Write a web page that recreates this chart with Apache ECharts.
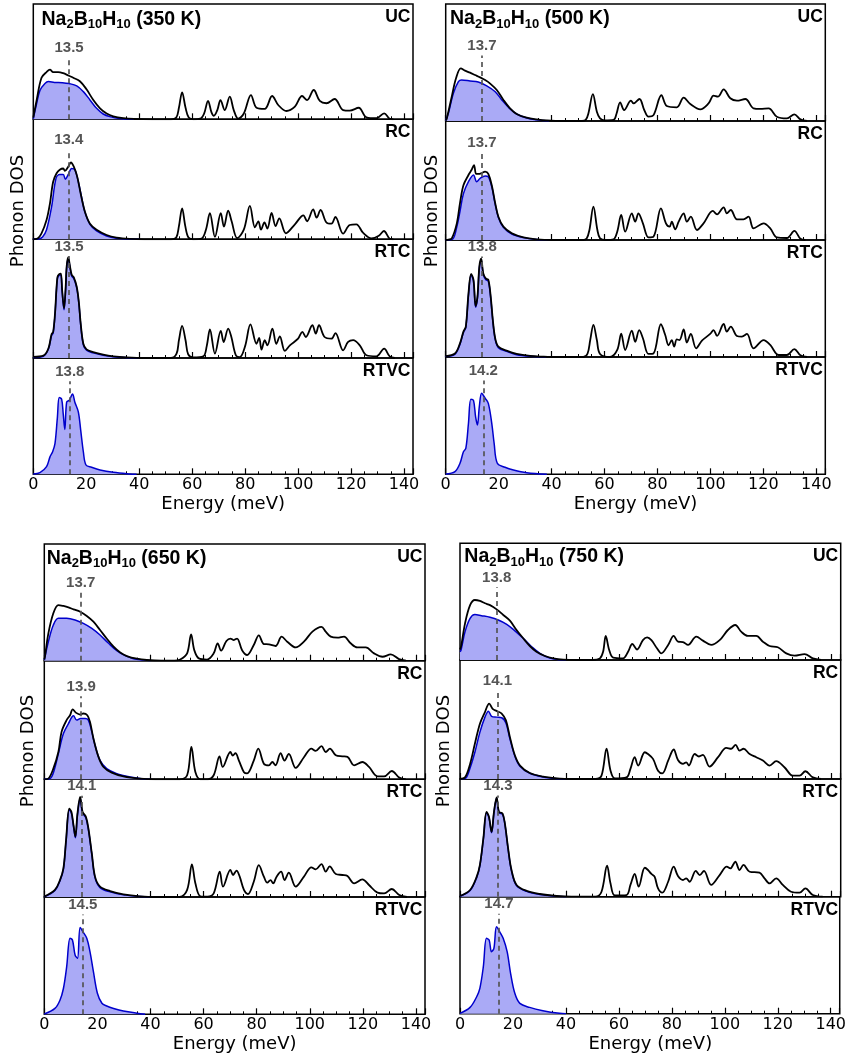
<!DOCTYPE html>
<html>
<head>
<meta charset="utf-8">
<script src="https://cdn.jsdelivr.net/npm/echarts@6/dist/echarts.min.js"></script>
<style>html,body{margin:0;padding:0;background:#fff}#chart{width:849px;height:1059px}</style>
</head>
<body>
<div id="chart"></div>
<script>
// ---------- DATA ----------
const energyTicks = [0, 20, 40, 60, 80, 100, 120, 140];
const temps = ['350 K', '500 K', '650 K', '750 K'];
const subplotNames = ['UC', 'RC', 'RTC', 'RTVC'];
const avg350 = [13.5, 13.4, 13.5, 13.8];
const avg500 = [13.7, 13.7, 13.8, 14.2];
const avg650 = [13.7, 13.9, 14.1, 14.5];
const avg750 = [13.8, 14.1, 14.3, 14.7];

// [energy (meV), DOS (arb.)]
const tot350UC = [[0,1.5],[1.3,17],[3.1,36],[5,41],[6.3,43],[7.5,41],[9.4,41],[11.3,40],[13.2,38],[15.1,36],[17.6,33],[20.1,26],[22.6,17],[25.2,9.5],[27.7,5],[30.2,2.6],[34,1],[38,0.3],[45,0],[52,0],[54,1.5],[55,10],[56.2,23.4],[57.5,10],[58.7,1.5],[60.5,0],[63,0.5],[64.5,5],[66,16],[67.3,6],[68.2,3],[69.5,8],[70.7,16.7],[72.3,8],[74.2,19.6],[75.7,8],[77.4,0.5],[79.5,5],[82.2,21],[84.3,10],[87.4,9],[90.2,20.2],[92.5,12.4],[95.6,7.2],[98.8,11],[101.5,20.2],[103.4,16.7],[105.9,25.4],[108.2,15.9],[110.7,13.9],[113.8,17.6],[117,8],[119.5,7.5],[122.9,10],[125.8,1.7],[129.6,0.9],[132.5,5.2],[134.6,0.5],[136,0]];
const na350UC = [[0,0.5],[1,11],[2.5,25],[4.4,31],[5.7,32.7],[8,32],[11,31.8],[13.5,31],[16.4,29],[18.9,24],[21.4,16.8],[23.9,9.5],[26.4,4.6],[28.9,2.3],[32.7,0.6],[38,0]];
const tot350RC = [[0,0],[1.3,0.3],[3.1,5],[5,16],[6.3,30],[7.5,48],[8.8,55],[10,58],[11.3,59],[11.9,57],[13.2,60.5],[14.2,64],[15.3,60.5],[16.6,52],[17.9,38],[19.5,23],[21.4,13],[23.9,8],[27.7,3.6],[31.4,1.4],[36.5,0.3],[42,0],[52,0],[54,1.5],[55,11],[56.2,25.8],[57.4,11],[58.6,1.5],[60.5,0],[63.5,0.5],[65.2,8],[66.7,21.7],[68.6,2],[70.8,21.7],[72,10.5],[73.6,23.8],[74.9,15],[77,1],[79.5,8],[81.8,27.8],[83.7,10],[85,15],[86,8],[87.3,14],[88.4,9],[90,22],[91.5,11],[92.9,17.5],[95.4,5],[98.8,12.5],[102,20],[103.4,15],[105.7,25],[107,18],[108.5,24.4],[110.7,14],[112.6,13],[114.1,18.6],[117,4.7],[119.5,11.9],[122,12.5],[124.5,5.5],[127.7,0.8],[130.5,3],[132.4,6.9],[134.6,0.5],[136,0]];
const na350RC = [[0,0],[2,0.3],[3.5,2],[5,8],[6.9,27],[8.6,51],[10,54],[11.3,54],[12.1,50],[13.2,54],[14.5,59],[15.7,58],[17,48],[18.2,35.5],[19.5,22.5],[21.4,12.5],[23.9,7],[27.7,2.8],[31.4,0.8],[35,0.3],[40,0]];
const tot350RTC = [[0,1],[3.8,2],[5.7,8],[6.9,20],[7.5,22],[8.2,37.5],[9.1,68],[9.8,70.7],[10.4,71],[10.9,57],[11.6,41.7],[12.2,58.6],[12.6,77],[13.2,85],[13.8,78],[14.5,70],[15.3,68],[16.4,60],[17.2,47],[17.9,29],[18.9,12],[20.1,7.3],[22.6,5],[26.4,2.8],[30.2,1.4],[35.2,0.5],[42,0],[52,0],[54.1,3.7],[55,15],[56.2,27],[57.5,15],[58.5,3],[60.4,0.5],[64.2,1.4],[65.5,10],[66.7,24],[68.6,3.7],[70.8,22.8],[71.9,13.5],[73.6,24.8],[74.8,17.7],[76.5,2.3],[78,0.8],[80,10],[82,28.4],[84.3,12],[85.3,17],[86.2,7],[87.4,15],[88.4,10.7],[90.3,24.8],[91.8,12],[93.1,18.3],[95,6],[96.9,10.7],[100,16.3],[101.6,22],[102.9,17.7],[105.4,27.6],[106.7,20.6],[107.9,27.6],[110,17.7],[112.6,16.3],[114.1,21],[117,6.5],[118.9,13.5],[120.8,15],[123.3,10.7],[125.8,2.3],[129.6,1.4],[132.5,7.9],[134.6,1.4],[136.5,0]];
const na350RTC = [[0,0.5],[3.8,1.5],[5.7,7.5],[6.9,19],[7.5,21],[8.2,36.5],[9.1,67],[9.8,69.7],[10.4,70],[10.9,56],[11.6,40.7],[12.2,57.6],[12.6,76],[13.2,84],[13.8,77],[14.5,69],[15.3,67],[16.4,59],[17.2,46],[17.9,28],[18.9,11],[20.1,6.5],[22.6,4.3],[26.4,2.2],[30.2,1],[35.2,0.3],[40,0]];
const na350RTVC = [[0,0.3],[2.5,1.4],[5,6.6],[6.3,15],[7.3,19.4],[8.2,26.6],[9.1,49],[9.8,66],[10.7,64.6],[11.3,52],[11.9,38.6],[12.6,62],[13.6,63.7],[14.8,69],[15.7,62],[17,53.7],[17.9,38],[18.9,19.4],[19.9,8],[22,6],[25.2,3.7],[30.2,1.7],[36.5,0.3],[39,0]];

const tot500UC = [[0,0.5],[0.4,2],[2.3,21],[3.9,36.5],[5.7,45],[7.3,43],[9.2,41.3],[11.1,39.3],[13,37.3],[14.9,35],[16.8,32],[19.3,26.5],[21.8,18],[24.3,10.8],[26.8,6],[30.6,2.8],[34.4,1.4],[38.2,0.5],[44,0],[51.5,0],[52.9,0.9],[53.9,6.5],[55.6,23],[57.1,8],[58.3,2.3],[60,0.5],[63.4,0.9],[64.5,6],[65.9,16],[67.4,9.4],[70,17.4],[71,15],[73.2,18.8],[75,9.4],[76.6,3.7],[78.5,5],[81.5,22],[83.5,12.8],[87.3,11.7],[89.9,19.9],[92.4,14.5],[96.2,10],[99.3,15],[101.2,21.7],[102.8,20.8],[105,27],[107.5,19.4],[110,17.4],[113.2,18.8],[116.3,10.8],[118.8,10.3],[122,10.8],[125.1,3.7],[128.9,2.3],[131.7,5.7],[134,1.4],[136.5,0]];
const na500UC = [[0,0.5],[1,6.5],[2.9,23.6],[4.8,33.6],[6,35],[9.2,34.2],[12.3,33.3],[15.5,30],[18.7,25],[21.2,18],[23.7,11.7],[26.8,6],[30.6,2.6],[35,0.9],[39,0]];
const tot500RC = [[0,0],[1,0.3],[2.3,1.4],[4.2,14],[5.4,31],[6.7,46],[8.6,54.6],[9.8,59],[10.7,63],[11.5,55.5],[12.4,55.5],[13.4,56],[14.9,57.4],[16.1,55.5],[17.4,46],[18.7,31],[19.9,19.6],[21.8,11.2],[25,5.6],[29.4,2.2],[34.4,0.6],[40,0],[52,0],[53.3,1.4],[54.3,8.4],[55.8,28],[57.3,8.4],[58.3,1.4],[60.5,0],[63.4,0.6],[64.8,7],[66.3,21],[67.8,7],[70.3,22.4],[71.6,15.4],[72.8,22.4],[74.5,14],[76.6,2.2],[78.5,2.8],[81.3,26.6],[83.2,14],[84.6,11.2],[85.4,15.4],[86.7,9],[88,15.4],[89.9,22.4],[91.1,15.4],[92.6,19.6],[94.9,8.4],[97.4,14],[100.9,24.4],[102.5,21.6],[105,27.5],[106.2,22.4],[107.7,25.2],[110,17.4],[112.5,17.4],[114.4,19.6],[116.3,9.8],[120.1,14],[122.6,9.8],[125.1,2.2],[128.9,1.7],[131.7,7.6],[134,1],[135.9,0]];
const na500RC = [[0,0],[2.5,0.5],[4.2,11],[5.4,24],[6.7,39],[8.6,49],[10.5,54.6],[11.7,49],[13,51.8],[14.9,53.8],[16.1,53],[17.4,44.8],[18.7,30],[19.9,19],[21.8,10.6],[25,5],[29.4,2],[34.4,0.5],[40,0]];
const tot500RTC = [[0,0.8],[3.5,3],[5.4,11.7],[6.7,21.7],[7.6,26],[8.6,54],[9.6,71],[10.5,66],[11.3,43.6],[12,51.6],[12.7,77],[13.4,84],[14.2,71.5],[15.2,67],[16.1,66],[17,51.6],[17.8,31.6],[18.7,16],[19.9,8.8],[23,5.4],[26.8,2.6],[31.9,0.9],[36.9,0.3],[42,0],[52,0],[53.6,3],[54.6,14.5],[55.8,27.4],[57.1,14.5],[58.3,2.6],[62.1,0],[64.8,6],[66.3,20],[67.8,6],[70.3,22.5],[71.6,13],[73.1,23],[74.5,16],[76.6,2.6],[78.5,3],[81.3,28],[82.9,19],[84.2,10],[85.4,14.5],[86.3,8.8],[87.3,15],[88.3,14.5],[89.9,23.6],[91.1,12.3],[92.6,19.7],[94.6,7.4],[96.8,14],[99.9,19.7],[101.2,23],[102.5,18],[105,28.2],[106.2,21.7],[107.7,26],[110,18],[111.9,17.4],[113.8,19.7],[116.3,7.4],[120.1,14.5],[122.6,10.3],[125.8,1.7],[128.9,1.7],[131.7,6.8],[134,1.4],[136.5,0]];
const na500RTC = [[0,0.5],[3.5,2.5],[5.4,11],[6.7,21],[7.6,25],[8.6,53],[9.6,70],[10.5,65],[11.3,42.6],[12,50.6],[12.7,76],[13.4,83],[14.2,70.5],[15.2,66],[16.1,65],[17,50.6],[17.8,30.6],[18.7,15],[19.9,8],[23,4.8],[26.8,2],[31.9,0.6],[38,0]];
const na500RTVC = [[0,0.3],[3.5,2.3],[5.4,9.4],[6.7,19.3],[7.6,22],[8.6,43.5],[9.5,64],[10.5,63],[11.3,49],[12,42],[12.7,57.7],[13.6,69],[14.9,64.8],[16.1,60.5],[17.4,43.5],[18.3,26.4],[19.5,9.4],[22.4,6],[25.6,3.7],[30.6,1.4],[38.2,0]];

const tot650UC = [[0,1],[0.25,3.4],[1.5,23],[3.4,40.6],[5.3,47.7],[7.2,46.9],[9.1,45.7],[11,44],[13.5,42],[16,38.3],[18.5,33.4],[21,26.3],[23.5,19],[26.1,12],[28.6,7],[31.1,4],[34.9,1.7],[38.6,0.6],[44,0],[49,0],[51.2,1],[53.8,6.3],[55.3,22.6],[56.5,9],[58.2,2],[61.3,1],[63.8,6.3],[65.3,14.9],[66.6,8.6],[68.6,16.9],[70.1,19],[71.4,17.7],[72.6,19],[74.5,9],[76.4,4.9],[78.9,13.4],[80.8,21.7],[82.7,14.3],[84.6,14],[87.1,12.6],[89.4,20.6],[91.5,16.3],[94.7,11.4],[97.8,16.3],[101,24.9],[104.4,29],[106,24.9],[107.9,20.6],[110.4,19.7],[112.9,20.6],[115.4,14.9],[117.9,11.4],[121.1,11.4],[124.2,6.3],[127.4,3.4],[130.5,5.4],[133.6,1.4],[136.2,0]];
const na650UC = [[0,0.6],[1.5,16],[3.4,30.6],[5.3,36.3],[8.4,36.3],[11.6,34.9],[14.7,32],[17.9,27.7],[21,22],[24.2,14.9],[27.3,8.6],[30.5,4.3],[33.6,1.7],[37.4,0.6],[40,0]];
const tot650RC = [[0,0],[1.5,0.6],[3.4,9],[5.3,23],[6.5,40],[8.4,49.9],[9.7,54],[10.7,59],[12,56],[13.5,54.6],[14.7,55.5],[16.2,54],[17.2,48.5],[18.5,34.4],[20.4,18.9],[22.3,10.4],[25.4,5.6],[29.8,2.5],[36.1,0.6],[42,0],[51,0],[53.8,3.4],[55.4,27.3],[56.9,6.2],[58.8,0],[61.5,0],[63.8,3.4],[66,19.4],[67.2,10.4],[70.1,23],[71,20],[72,22],[73.3,15.8],[75.2,6],[76.4,5],[78.9,15.8],[80.6,25.9],[82.7,13.2],[84.6,11.8],[85.9,14.6],[87.1,11.8],[89,22],[90.5,15.8],[92.1,21.4],[94.7,9.6],[97.8,18.6],[100.6,25.9],[102.2,23.9],[104.4,27.9],[106,23],[107.6,25.9],[109.8,20.3],[112.3,19.4],[114.2,18.9],[116.7,11.8],[119.8,14.6],[122.3,10.4],[125.5,2.5],[128,2.5],[130.9,7],[133.7,1.4],[136.2,0]];
const na650RC = [[0,0],[2,0.5],[3.4,5.4],[5.3,21.7],[7.2,38.6],[9.1,47],[11,53.5],[12.2,49.9],[13.7,51.3],[15.4,51.3],[16.6,49.9],[17.9,40],[19.1,28.7],[21,16],[23.5,9],[27.3,4.8],[32.4,2],[37.4,0.3],[40,0]];
const tot650RTC = [[0,0.3],[4,6],[5.9,14.4],[7.2,24.4],[8.2,48.4],[9.4,75],[10.2,72.5],[11,61],[11.7,51.3],[12.5,71],[13.5,85],[14.4,72.5],[15.7,68],[16.6,58.4],[17.9,37],[19.1,17.3],[21,8.8],[24.8,5],[29.8,2.3],[36.1,0.6],[42,0],[51,0],[53.8,6],[55.6,27.8],[56.9,11.7],[58.8,0.6],[61.5,0.3],[63.8,3],[66.1,21.5],[67.3,8.8],[70.1,23],[71.1,18.7],[72.4,22.4],[73.6,17.3],[75.2,6],[76.7,2.5],[78.9,13],[80.8,27],[82.7,17.3],[84,12.2],[85.2,14.4],[86.2,11.6],[87.5,17.3],[89.2,21.5],[90.5,14.4],[92.1,20.7],[94.7,8.8],[97.8,17.3],[100.6,25.2],[102.2,23.5],[104.4,28],[106,21.5],[107.5,26],[109.8,19.5],[112.3,18.7],[114.2,17.8],[116.7,11.6],[119.8,15],[122.3,10.2],[125.5,3.7],[128,3],[130.9,6.8],[133.7,1.7],[136.6,0]];
const na650RTC = [[0,0.2],[4,5.5],[5.9,13.8],[7.2,23.6],[8.2,47.4],[9.4,74],[10.2,71.5],[11,60],[11.7,50.3],[12.5,70],[13.5,84],[14.4,71.5],[15.7,67],[16.6,57.4],[17.9,36],[19.1,16.5],[21,8],[24.8,4.4],[29.8,1.8],[36.1,0.4],[40,0]];
const na650RTVC = [[0,0.3],[4,5],[5.9,12],[7.2,22],[8.4,40],[9.7,64.8],[10.6,63.4],[11.6,50.6],[12.5,47.7],[13.5,74],[14.5,70.5],[16,64.8],[17.2,53.4],[18.5,36.4],[20,18],[21.7,9.4],[23.5,7.1],[26.1,5],[29.8,2.8],[34.9,0.9],[38,0]];

const tot750UC = [[0,9],[0.4,11.4],[1.9,31.4],[3.8,47],[5.6,51.4],[7.5,50.6],[9.4,48.6],[11.3,47],[13.8,43.4],[16.3,38.6],[18.8,33.7],[21.3,25.7],[23.8,18.6],[26.3,12],[28.8,7.1],[32,3.4],[35.1,1.4],[38.9,0.3],[44,0],[50,0],[52.7,1.4],[53.9,7],[54.9,20.6],[56.2,8.6],[57.7,2],[61.4,1.4],[63.3,7],[64.9,13.7],[66.7,9],[68.9,17],[70.5,19.4],[72.1,17],[74.2,10],[75.8,5.7],[78.4,12.9],[80.5,20.6],[82.1,15.7],[84,15.4],[85.9,12.9],[89,20],[91.5,16.6],[94.6,12.9],[97.8,17],[100.9,25.7],[103.7,30],[105.9,24.3],[108.4,20.6],[111.6,20.6],[114.1,15.7],[116.6,12],[119.7,10.9],[122.9,5.7],[126,3.7],[129.8,5.1],[132.9,1.4],[136,0]];
const na750UC = [[0,7],[0.4,8.6],[1.9,24.3],[3.8,35.7],[5.6,39],[8.1,38],[11.3,36.6],[14.4,34.3],[17.6,30.6],[20.7,25],[23.8,18.6],[27,11.4],[30.1,5.7],[33.8,1.7],[37.6,0.3],[40,0]];
const tot750RC = [[0,0],[1.9,1.4],[3.8,12.7],[5.6,29.6],[7.5,46.5],[9.4,56.3],[11,63.4],[12.3,59],[13.8,57.2],[15.7,55],[17.3,49.3],[18.8,35.2],[20.7,19.7],[22.6,11.3],[26.3,5],[31.3,2],[37.6,0.3],[42,0],[51,0],[53.3,2.8],[55.2,25.4],[56.7,7],[58.3,0.5],[62.7,1.4],[64.2,8.5],[65.8,18.3],[67.1,11.3],[69.6,22.5],[70.8,21],[72.7,16.9],[74.6,7],[76.2,4.8],[78.4,15.5],[80.5,24.8],[82.1,16],[84,12.7],[85.2,14],[86.2,11.3],[88.4,21],[90,18.9],[91.5,20.3],[94,10.4],[97.2,18.3],[100.3,26.2],[102.2,25.4],[103.8,28.7],[105.3,23.9],[106.8,25.4],[109.1,21],[111.6,18.3],[114.1,15.5],[116.6,11.3],[119.1,15],[122.2,9.9],[125.4,2.8],[127.9,2.8],[130.1,6.5],[132.9,1.4],[136,0]];
const na750RC = [[0,0],[2,0.5],[3.8,9.3],[5.6,22.5],[7.5,39.4],[9.4,52],[10.7,57],[11.9,52.7],[13.8,52],[15.7,51.5],[17.3,47],[18.8,33.8],[20.7,18.9],[22.6,10.7],[26.3,4.8],[31.3,1.7],[36.4,0.3],[40,0]];
const tot750RTC = [[0,0.6],[3.8,5.7],[6.3,17],[7.5,27],[8.8,49.6],[10,72],[10.9,68],[11.9,55],[12.8,72],[13.8,84.4],[14.7,72],[16,70.8],[16.9,62.3],[18.2,39.7],[19.4,22.7],[21.3,10],[25.1,5],[30.1,2.3],[36.4,0.6],[42,0],[51,0],[53.3,4.2],[55.4,26.3],[56.7,11.3],[58.3,1],[62.7,1.4],[64.2,10],[65.8,19.3],[67.3,8.5],[69.6,24.6],[70.8,22.7],[72.1,19.3],[73.3,17],[74.6,7],[76.2,3.4],[78.4,12.7],[80.5,25.5],[82.1,17.6],[84,14.2],[85.2,15.6],[86.5,12.7],[88.8,22],[90.3,18.4],[91.9,22],[94.6,10],[97.8,18.4],[100.5,25.5],[101.8,24],[103.7,29.7],[105.3,22.7],[106.8,27],[109.1,21.2],[112.8,20.4],[114.7,15.6],[116.6,11.3],[119.1,15.6],[121.6,10],[124.7,4.2],[127.9,3.4],[130.1,7],[132.9,1.4],[136.6,0]];
const na750RTC = [[0,0.4],[3.8,5.2],[6.3,16.4],[7.5,26.4],[8.8,49],[10,71.4],[10.9,67.4],[11.9,54.4],[12.8,71.4],[13.8,83.8],[14.7,71.4],[16,70.2],[16.9,61.7],[18.2,39],[19.4,22],[21.3,9.4],[25.1,4.5],[30.1,1.8],[36.4,0.4],[40,0]];
const na750RTVC = [[0,0.3],[3.8,5.4],[6.3,14.5],[7.5,21.7],[8.8,40],[10,64.4],[11,63],[11.9,53],[12.8,55.8],[13.8,74.4],[15,70],[16.3,64.4],[17.8,53],[19.1,34.5],[20.7,17.4],[22.6,8.8],[26.3,5.4],[31.3,2.6],[37.6,0.3],[40,0]];

// ---------- ASSEMBLY ----------
const panels = [
  {temp: temps[0], tot: [tot350UC, tot350RC, tot350RTC, null], na: [na350UC, na350RC, na350RTC, na350RTVC], avg: avg350},
  {temp: temps[1], tot: [tot500UC, tot500RC, tot500RTC, null], na: [na500UC, na500RC, na500RTC, na500RTVC], avg: avg500},
  {temp: temps[2], tot: [tot650UC, tot650RC, tot650RTC, null], na: [na650UC, na650RC, na650RTC, na650RTVC], avg: avg650},
  {temp: temps[3], tot: [tot750UC, tot750RC, tot750RTC, null], na: [na750UC, na750RC, na750RTC, na750RTVC], avg: avg750}
];

const XMAX = 143.4;
const layout = [
  {left: 33.3, width: 379.7, bounds: [4, 119.3, 239.3, 358, 474.3], title: [41.5, 7.2], ylab: [18, 211], xlab: 504},
  {left: 445.7, width: 379.6, bounds: [4, 121, 240, 357, 474.3], title: [450, 6.5], ylab: [432, 211], xlab: 504},
  {left: 44.3, width: 380.7, bounds: [544, 660.7, 779.3, 897, 1014.3], title: [46.7, 546.2], ylab: [28, 751], xlab: 1044},
  {left: 460, width: 380.7, bounds: [543.3, 660, 779, 896.7, 1013.7], title: [464.3, 544.5], ylab: [444, 751], xlab: 1044}
];

const grid = [], xAxis = [], yAxis = [], series = [], graphic = [];
const BOLD = 'Liberation Sans';
const REG = 'DejaVu Sans';

panels.forEach((p, pi) => {
  const L = layout[pi];
  for (let s = 0; s < 4; s++) {
    const g = grid.length;
    const top = L.bounds[s], bot = L.bounds[s + 1];
    grid.push({left: L.left, top: top, width: L.width, height: bot - top, show: true,
      borderColor: '#000', borderWidth: 1.5, backgroundColor: 'transparent'});
    const isBottom = s === 3;
    xAxis.push({gridIndex: g, type: 'value', min: 0, max: XMAX, interval: 20, position: 'bottom',
      axisLine: {show: false, onZero: false},
      axisTick: {show: true, inside: true, length: 6, lineStyle: {color: '#000', width: 1.2}},
      axisLabel: {show: isBottom, color: '#000', fontSize: 16, fontFamily: REG, margin: 3,
        formatter: v => (energyTicks.indexOf(v) >= 0 ? String(v) : '')},
      splitLine: {show: false}});
    xAxis.push({gridIndex: g, type: 'value', min: 0, max: XMAX, interval: 5, position: 'bottom',
      axisLine: {show: false, onZero: false},
      axisTick: {show: true, inside: true, length: 3, lineStyle: {color: '#000', width: 1}},
      axisLabel: {show: false}, splitLine: {show: false}});
    yAxis.push({gridIndex: g, type: 'value', min: 0, max: 100, show: false});

    const tot = p.tot[s], na = p.na[s];
    let peak = 0;
    (tot || []).concat(na).forEach(d => { if (d[1] > peak) peak = d[1]; });
    const lineTop = Math.min(peak + 11, 86);
    const v = p.avg[s];
    series.push({type: 'line', xAxisIndex: 2 * g, yAxisIndex: g, data: na, smooth: 0.35,
      symbol: 'none', silent: true, z: 2,
      lineStyle: {color: '#0000cc', width: 1.5},
      areaStyle: {color: '#aaaaf6', opacity: 1},
      markLine: {symbol: ['none', 'none'], silent: true, z: 5,
        lineStyle: {color: '#555', type: [5, 4], width: 1.7},
        label: {show: true, position: 'end', formatter: v.toFixed(1), color: '#555',
          fontSize: 15, fontWeight: 'bold', fontFamily: BOLD, distance: 2},
        emphasis: {disabled: true},
        data: [[{coord: [v, 0]}, {coord: [v, lineTop]}]]}});
    if (tot) {
      series.push({type: 'line', xAxisIndex: 2 * g, yAxisIndex: g, data: tot, smooth: 0.35,
        symbol: 'none', silent: true, z: 3,
        lineStyle: {color: '#000', width: 1.8}});
    }
    graphic.push({type: 'text', x: L.left + L.width - 2.5, y: top + 4, silent: true,
      style: {text: subplotNames[s], textAlign: 'right', textVerticalAlign: 'top',
        fontSize: 17.5, fontWeight: 'bold', fontFamily: BOLD, fill: '#000'}});
  }
  graphic.push({type: 'text', x: L.title[0], y: L.title[1], silent: true,
    style: {text: 'Na{s|2}B{s|10}H{s|10} (' + p.temp + ')', textAlign: 'left', textVerticalAlign: 'top',
      fontSize: 19.5, fontWeight: 'bold', fontFamily: BOLD, fill: '#000', lineHeight: 24,
      rich: {s: {fontSize: 13, fontWeight: 'bold', fontFamily: BOLD, fill: '#000', lineHeight: 13, verticalAlign: 'bottom'}}}});
  graphic.push({type: 'text', x: L.ylab[0], y: L.ylab[1], rotation: Math.PI / 2, silent: true,
    style: {text: 'Phonon DOS', textAlign: 'center', textVerticalAlign: 'middle',
      fontSize: 18, fontFamily: REG, fill: '#000'}});
  graphic.push({type: 'text', x: L.left + L.width / 2, y: L.xlab, silent: true,
    style: {text: 'Energy (meV)', textAlign: 'center', textVerticalAlign: 'middle',
      fontSize: 18, fontFamily: REG, fill: '#000'}});
});

const chart = echarts.init(document.getElementById('chart'), null, {renderer: 'canvas', width: 849, height: 1059});
chart.setOption({animation: false, backgroundColor: '#fff', grid, xAxis, yAxis, series, graphic});
</script>
</body>
</html>
